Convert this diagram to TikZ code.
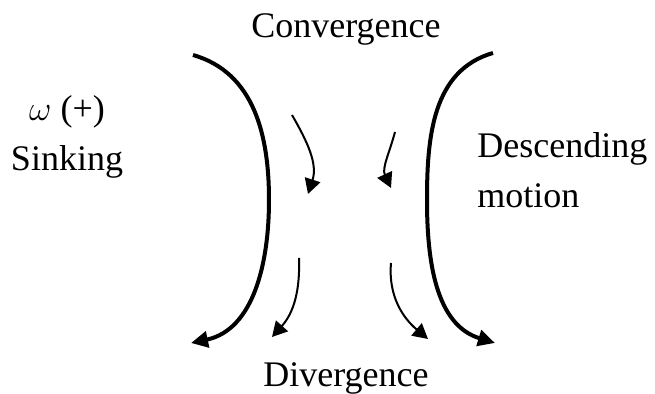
\documentclass[tikz,border=0pt]{standalone}
\usepackage{fontspec}
\setmainfont{Liberation Serif}
\usetikzlibrary{arrows.meta}
\tikzset{
  bigflow/.style={line width=2pt,-{Triangle[length=8.5pt,width=8pt]}},
  smallflow/.style={line width=1pt,-{Triangle[length=7.5pt,width=8pt]}},
  lbl/.style={font=\fontsize{18}{25}\selectfont,inner sep=0pt}
}
\begin{document}
\begin{tikzpicture}[x=0.5pt,y=0.5pt]
  \useasboundingbox (0,0) rectangle (655,394);
  % labels
  \node[lbl,anchor=base] (conv) at (346,356) {Convergence};
  \node[lbl,anchor=base] (div) at (346,7) {Divergence};
  \node[lbl,align=center,anchor=north] (sink) at (67,299) {$\omega$ (+)\\Sinking};
  \node[lbl,align=left,anchor=north west] (desc) at (477,262) {Descending\\motion};
  % big arcs
  \coordinate (ls) at (193,339);
  \coordinate (lm) at (269,194);
  \coordinate (le) at (191,51);
  \coordinate (rs) at (493,341);
  \coordinate (rm) at (427,194);
  \coordinate (re) at (495,51);
  \draw[bigflow] (ls) to[out=-16,in=90] (lm) to[out=-90,in=12] (le);
  \draw[bigflow] (rs) to[out=196,in=90] (rm) to[out=-90,in=163] (re);
  % small arrows
  \coordinate (a1) at (292,279); \coordinate (b1) at (308,200);
  \coordinate (a2) at (395,262); \coordinate (b2) at (391,206);
  \coordinate (a3) at (299,136); \coordinate (b3) at (272,57);
  \coordinate (a4) at (391,131); \coordinate (b4) at (428,55);
  \draw[smallflow] (a1) to[out=-60,in=72] (b1);
  \draw[smallflow] (a2) to[out=-105,in=115] (b2);
  \draw[smallflow] (a3) to[out=-88,in=48] (b3);
  \draw[smallflow] (a4) to[out=-95,in=140] (b4);
\end{tikzpicture}
\end{document}
